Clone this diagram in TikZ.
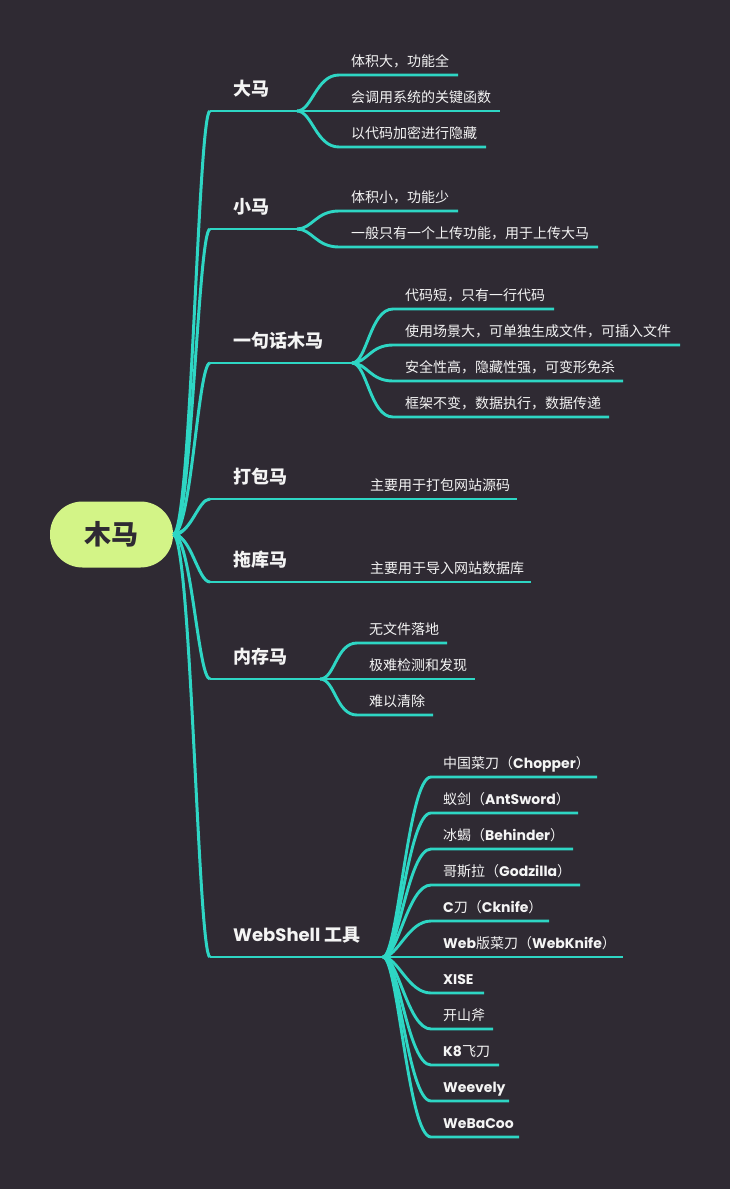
\documentclass[tikz,border=0pt]{standalone}
\usepackage{fontspec}
\setmainfont{Noto Sans CJK SC}
\newfontfamily\latf{Poppins}
\newcommand\enw[1]{{\latf\bfseries #1}}
\definecolor{bgc}{HTML}{2F2A33}
\definecolor{linec}{HTML}{2ED6C4}
\definecolor{rootg}{HTML}{D3F487}
\definecolor{txtw}{HTML}{F4F4F4}
\tikzset{
  stem/.style={draw=linec,line width=3pt},
  lnk/.style={draw=linec,line width=2.9pt},
  rootbox/.style={fill=rootg,rounded corners=32.5pt,minimum width=123pt,minimum height=66pt,
    inner sep=0pt,text=bgc,font=\fontsize{27}{27}\selectfont\bfseries},
  mainlab/.style={text=txtw,anchor=base west,inner sep=0pt,font=\fontsize{18}{18}\selectfont\bfseries},
  sublab/.style={text=txtw,anchor=base west,inner sep=0pt,font=\fontsize{14}{14}\selectfont}
}
% tapered stem from the root to a branch
\newcommand\stemto[1]{%
  \fill[linec] ([yshift=2.2pt]root.east) .. controls +(18,0) and +(-12,0) .. (#1)
    .. controls +(-12,0) and +(18,0) .. ([yshift=-2.2pt]root.east) -- cycle;
  \draw[stem] (root.east) .. controls +(18,0) and +(-12,0) .. (#1);}
\begin{document}
\begin{tikzpicture}[x=1pt,y=-1pt]
	\fill[bgc] (0,0) rectangle (730,1189);
	\useasboundingbox (0,0) rectangle (730,1189);
	\node[rootbox] (root) at (111.5,534.5) {木马};
	% 大马
	\coordinate (dama) at (210,111);
	\coordinate (damaF) at (297,111);
	\stemto{dama}
	\draw[lnk] (dama) -- (damaF);
	\node[mainlab] (damaL) at (233,95) {大马};
	\foreach \i/\y/\e/\s in {1/75/458/{体积大，功能全},2/111/500/{会调用系统的关键函数},3/147/486/{以代码加密进行隐藏}}{
		\coordinate (dama\i) at (339,\y);
		\coordinate (dama\i E) at (\e,\y);
		\draw[lnk] (damaF) .. controls +(15,0) and +(-23,0) .. (dama\i) -- (dama\i E);
		\node[sublab] (dama\i L) at (351,\y-9) {\s};
	}
	% 小马
	\coordinate (xiaoma) at (210,229);
	\coordinate (xiaomaF) at (297,229);
	\stemto{xiaoma}
	\draw[lnk] (xiaoma) -- (xiaomaF);
	\node[mainlab] (xiaomaL) at (233,213) {小马};
	\foreach \i/\y/\e/\s in {1/211/458/{体积小，功能少},2/247/598/{一般只有一个上传功能，用于上传大马}}{
		\coordinate (xiaoma\i) at (339,\y);
		\coordinate (xiaoma\i E) at (\e,\y);
		\draw[lnk] (xiaomaF) .. controls +(15,0) and +(-23,0) .. (xiaoma\i) -- (xiaoma\i E);
		\node[sublab] (xiaoma\i L) at (351,\y-9) {\s};
	}
	% 一句话木马
	\coordinate (yiju) at (210,363);
	\coordinate (yijuF) at (352,363);
	\stemto{yiju}
	\draw[lnk] (yiju) -- (yijuF);
	\node[mainlab] (yijuL) at (233,347) {一句话木马};
	\foreach \i/\y/\e/\s in {1/309/554/{代码短，只有一行代码},2/345/680/{使用场景大，可单独生成文件，可插入文件},
		3/381/623/{安全性高，隐藏性强，可变形免杀},4/417/609/{框架不变，数据执行，数据传递}}{
		\coordinate (yiju\i) at (393,\y);
		\coordinate (yiju\i E) at (\e,\y);
		\draw[lnk] (yijuF) .. controls +(15,0) and +(-23,0) .. (yiju\i) -- (yiju\i E);
		\node[sublab] (yiju\i L) at (405,\y-9) {\s};
	}
	% 打包马
	\coordinate (dabao) at (210,499);
	\coordinate (dabaoF) at (358,499);
	\coordinate (dabao1E) at (517,499);
	\stemto{dabao}
	\draw[lnk] (dabao) -- (dabaoF) -- (dabao1E);
	\node[mainlab] (dabaoL) at (233,483) {打包马};
	\node[sublab] (dabao1L) at (370,490) {主要用于打包网站源码};
	% 拖库马
	\coordinate (tuoku) at (210,582);
	\coordinate (tuokuF) at (358,582);
	\coordinate (tuoku1E) at (531,582);
	\stemto{tuoku}
	\draw[lnk] (tuoku) -- (tuokuF) -- (tuoku1E);
	\node[mainlab] (tuokuL) at (233,566) {拖库马};
	\node[sublab] (tuoku1L) at (370,573) {主要用于导入网站数据库};
	% 内存马
	\coordinate (neicun) at (210,679);
	\coordinate (neicunF) at (320,679);
	\stemto{neicun}
	\draw[lnk] (neicun) -- (neicunF);
	\node[mainlab] (neicunL) at (233,663) {内存马};
	\foreach \i/\y/\e/\s in {1/643/447/{无文件落地},2/679/475/{极难检测和发现},3/715/433/{难以清除}}{
		\coordinate (neicun\i) at (357,\y);
		\coordinate (neicun\i E) at (\e,\y);
		\draw[lnk] (neicunF) .. controls +(15,0) and +(-21,0) .. (neicun\i) -- (neicun\i E);
		\node[sublab] (neicun\i L) at (369,\y-9) {\s};
	}
	% WebShell 工具
	\coordinate (wsh) at (210,957);
	\coordinate (wshF) at (383,957);
	\stemto{wsh}
	\draw[lnk] (wsh) -- (wshF);
	\node[mainlab] (wshL) at (233,941) {\enw{WebShell} 工具};
	\foreach \i/\y/\e/\s in {1/777/597/{中国菜刀（\enw{Chopper}）},2/813/578/{蚁剑（\enw{AntSword}）},
		3/849/573/{冰蝎（\enw{Behinder}）},4/885/580/{哥斯拉（\enw{Godzilla}）},5/921/549/{\enw{C}刀（\enw{Cknife}）},
		6/957/623/{\enw{Web}版菜刀（\enw{WebKnife}）},7/993/484/{\enw{XISE}},8/1029/493/{开山斧},
		9/1065/499/{\enw{K8}飞刀},10/1101/509/{\enw{Weevely}},11/1137/519/{\enw{WeBaCoo}}}{
		\coordinate (wsh\i) at (431,\y);
		\coordinate (wsh\i E) at (\e,\y);
		\draw[lnk] (wshF) .. controls +(15,0) and +(-23,0) .. (wsh\i) -- (wsh\i E);
		\node[sublab] (wsh\i L) at (443,\y-9) {\s};
	}
\end{tikzpicture}
\end{document}
